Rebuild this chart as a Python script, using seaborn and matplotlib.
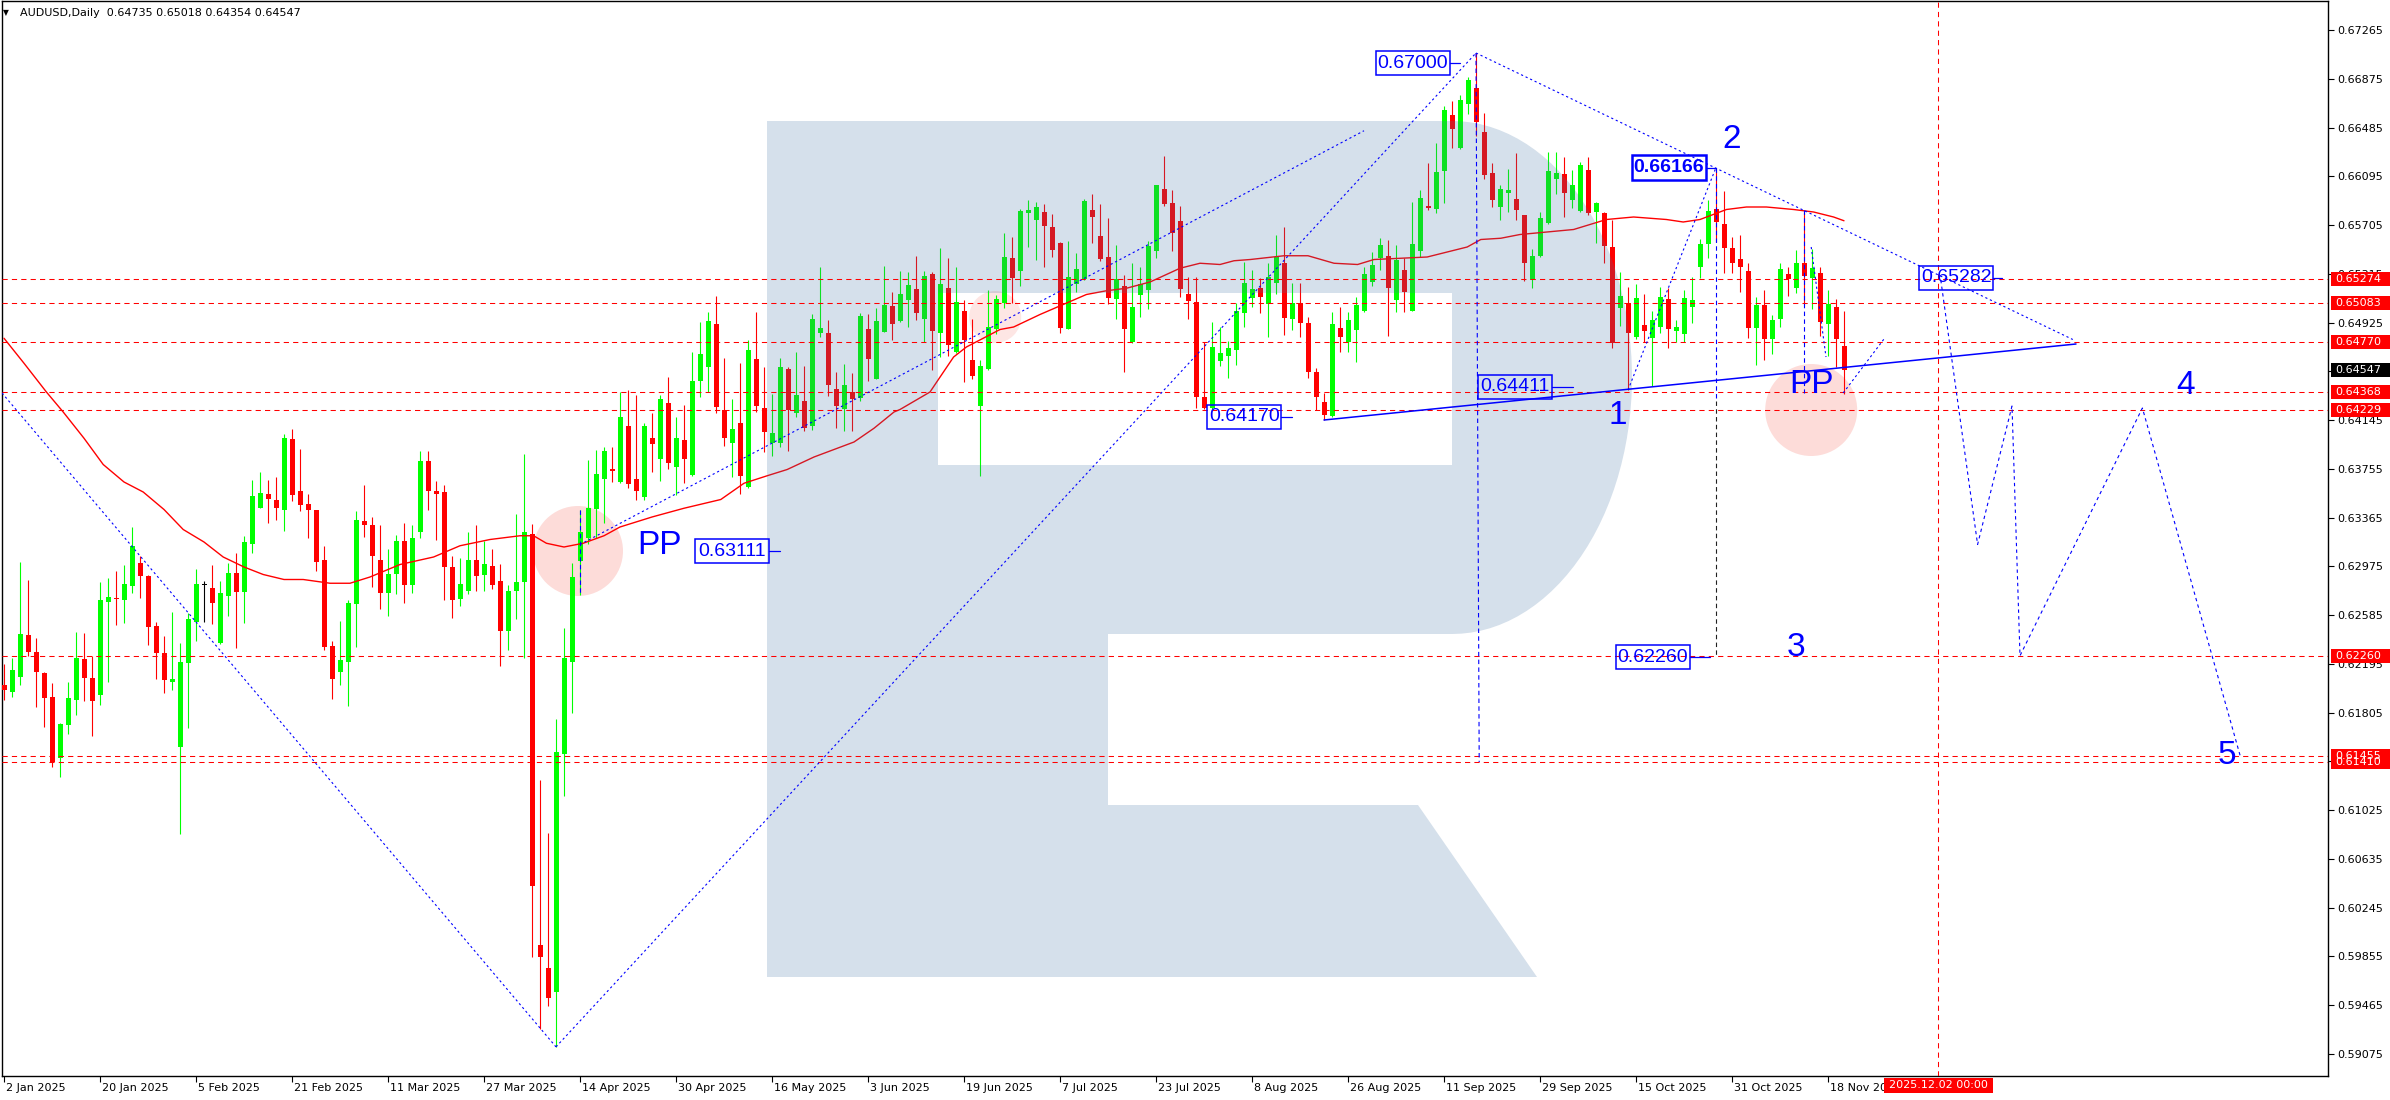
import numpy as np
import pandas as pd
import matplotlib
matplotlib.use("Agg")
import matplotlib.pyplot as plt
import seaborn as sns
from matplotlib.patches import Rectangle, Ellipse, PathPatch
from matplotlib.path import Path
from matplotlib.transforms import (blended_transform_factory, IdentityTransform,
                                   ScaledTranslation)

# ---------------- data ----------------
opens = [0.62026,0.61973,0.62093,0.62426,0.62293,0.62125,0.61933,0.61439,0.61706,0.61906,
0.62231,0.62079,0.61946,0.62693,0.62720,0.62706,0.62818,0.62999,0.62898,0.62498,
0.62279,0.62053,0.61533,0.62205,0.62533,0.62826,0.62799,0.62359,0.62738,0.62919,
0.62773,0.63154,0.63445,0.63554,0.63506,0.63426,0.63994,0.63578,0.63474,0.63426,
0.63023,0.62339,0.62132,0.62207,0.62674,0.63335,0.63307,0.63023,0.62764,0.62915,
0.63179,0.62825,0.63250,0.63816,0.63580,0.63566,0.62967,0.62717,0.62778,0.63023,
0.62905,0.62981,0.62858,0.62462,0.62778,0.62849,0.63236,0.59948,0.59759,0.59570,
0.61471,0.62207,0.63014,0.63203,0.63434,0.63675,0.63755,0.63651,0.64098,0.63674,
0.63533,0.63999,0.63834,0.64279,0.63773,0.63986,0.63706,0.64461,0.64573,0.64914,
0.64226,0.63959,0.64125,0.63613,0.64634,0.64239,0.63959,0.63965,0.64554,0.64199,
0.64298,0.64101,0.64845,0.64839,0.64391,0.64234,0.64367,0.64319,0.64874,0.64474,
0.64853,0.65058,0.64938,0.65106,0.65194,0.64954,0.65311,0.64845,0.65199,0.64693,
0.65018,0.64626,0.64261,0.64554,0.64871,0.65079,0.65439,0.65341,0.65805,0.65746,
0.65807,0.65687,0.65565,0.64877,0.65231,0.65274,0.65826,0.65618,0.65450,0.65111,
0.65218,0.64767,0.65146,0.65186,0.65501,0.65994,0.65879,0.65738,0.65154,0.65087,
0.64327,0.64239,0.64621,0.64661,0.64706,0.64999,0.65119,0.65205,0.65071,0.65239,
0.65399,0.64951,0.65085,0.64919,0.64527,0.64287,0.64181,0.64879,0.64767,0.64866,
0.65018,0.65247,0.65445,0.65458,0.65106,0.65346,0.65018,0.65501,0.65858,0.65834,
0.66141,0.66586,0.66319,0.66671,0.66799,0.66447,0.66119,0.65853,0.65965,0.65911,
0.65786,0.65266,0.65458,0.65725,0.66071,0.66114,0.65906,0.65818,0.66146,0.65813,
0.65805,0.65527,0.65039,0.65085,0.64807,0.64906,0.64799,0.64887,0.65114,0.64861,
0.64831,0.65053,0.65373,0.65551,0.65831,0.65711,0.65519,0.65431,0.65338,0.64879,
0.65066,0.64791,0.64951,0.65314,0.65205,0.65399,0.65279,0.65319,0.64914,0.65047,
0.64735]
highs = [0.62194,0.62239,0.63013,0.62866,0.62399,0.62130,0.62039,0.61720,0.62053,0.62453,
0.62445,0.62258,0.62853,0.62879,0.62941,0.62986,0.63293,0.63058,0.62905,0.62533,
0.62418,0.62613,0.62359,0.62599,0.62951,0.62861,0.62986,0.62858,0.62999,0.63079,
0.63218,0.63666,0.63727,0.63666,0.63693,0.64031,0.64074,0.63914,0.63554,0.63430,
0.63137,0.62377,0.62542,0.62707,0.63415,0.63627,0.63368,0.63307,0.63118,0.63226,
0.63321,0.63302,0.63896,0.63896,0.63660,0.63627,0.63061,0.63038,0.63250,0.63307,
0.63179,0.63118,0.62990,0.62825,0.63396,0.63877,0.63311,0.61268,0.60844,0.61754,
0.62481,0.63000,0.63424,0.63826,0.63906,0.63929,0.63929,0.64368,0.64386,0.64346,
0.64125,0.64205,0.64346,0.64493,0.64173,0.64266,0.64693,0.64933,0.65013,0.65138,
0.64645,0.64314,0.64605,0.64786,0.65010,0.64573,0.64354,0.64645,0.64573,0.64687,
0.64581,0.64991,0.65373,0.64946,0.64527,0.64594,0.64525,0.65005,0.64994,0.65039,
0.65378,0.65173,0.65338,0.65330,0.65461,0.65341,0.65330,0.65519,0.65439,0.65367,
0.65106,0.64954,0.64626,0.65186,0.65146,0.65645,0.65613,0.65834,0.65906,0.65893,
0.65874,0.65794,0.65570,0.65578,0.65485,0.65914,0.65954,0.65874,0.65762,0.65546,
0.65306,0.65399,0.65367,0.65578,0.66030,0.66258,0.65986,0.65861,0.65293,0.65293,
0.64767,0.64927,0.64887,0.64781,0.65085,0.65413,0.65346,0.65279,0.65399,0.65626,
0.65687,0.65239,0.65239,0.64967,0.64565,0.64365,0.65007,0.65047,0.65007,0.65133,
0.65373,0.65493,0.65599,0.65586,0.65546,0.65439,0.65893,0.65986,0.66199,0.66359,
0.66658,0.66698,0.66746,0.66893,0.67082,0.66599,0.66199,0.66026,0.66151,0.66279,
0.65790,0.65511,0.65807,0.66287,0.66287,0.66253,0.66146,0.66213,0.66253,0.65893,
0.65810,0.65746,0.65327,0.65213,0.65234,0.65154,0.65018,0.65213,0.65205,0.64946,
0.65186,0.65287,0.65594,0.65906,0.66166,0.65978,0.65613,0.65626,0.65399,0.65133,
0.65186,0.64986,0.65399,0.65373,0.65506,0.65813,0.65511,0.65373,0.65186,0.65111,
0.65018]
lows = [0.61906,0.61933,0.62026,0.62258,0.61847,0.61693,0.61367,0.61287,0.61634,0.61786,
0.61901,0.61618,0.61866,0.62053,0.62506,0.62525,0.62765,0.62725,0.62346,0.62074,
0.61965,0.61986,0.60834,0.61679,0.62381,0.62533,0.62511,0.62350,0.62578,0.62325,
0.62525,0.63085,0.63440,0.63325,0.63346,0.63258,0.63498,0.63418,0.63205,0.62941,
0.62306,0.61915,0.62023,0.61858,0.62330,0.63212,0.62811,0.62632,0.62575,0.62755,
0.62684,0.62764,0.63203,0.63424,0.63189,0.62707,0.62566,0.62660,0.62755,0.62778,
0.62778,0.62792,0.62179,0.62306,0.62552,0.62245,0.59853,0.59277,0.59461,0.59131,
0.61141,0.61801,0.62745,0.63156,0.63203,0.63321,0.63651,0.63640,0.63599,0.63506,
0.63506,0.63733,0.63661,0.63751,0.63546,0.63645,0.63698,0.64333,0.64373,0.64205,
0.63938,0.63693,0.63551,0.63599,0.64213,0.63893,0.63861,0.63933,0.63901,0.64173,
0.64061,0.64066,0.64813,0.64338,0.64085,0.64058,0.64058,0.64301,0.64461,0.64470,
0.64850,0.64786,0.64927,0.64893,0.64946,0.64773,0.64546,0.64653,0.64658,0.64679,
0.64447,0.64471,0.63698,0.64546,0.64834,0.65039,0.65079,0.65218,0.65533,0.65426,
0.65367,0.65453,0.64845,0.64870,0.65173,0.65266,0.65559,0.65418,0.65071,0.64951,
0.64533,0.64760,0.64973,0.65031,0.65439,0.65861,0.65501,0.65127,0.64951,0.64245,
0.64231,0.64235,0.64578,0.64485,0.64586,0.64887,0.65053,0.65005,0.64813,0.65154,
0.64826,0.64866,0.64813,0.64485,0.64226,0.64146,0.64170,0.64693,0.64693,0.64613,
0.65007,0.65218,0.65346,0.64818,0.65007,0.65007,0.65015,0.65453,0.65826,0.65799,
0.65885,0.66319,0.66315,0.66594,0.66418,0.66071,0.65853,0.65746,0.65813,0.65746,
0.65261,0.65199,0.65447,0.65714,0.65954,0.65767,0.65839,0.65807,0.65786,0.65559,
0.65399,0.64719,0.64898,0.64386,0.64791,0.64773,0.64418,0.64839,0.64719,0.64773,
0.64773,0.64919,0.65279,0.65439,0.65573,0.65319,0.65325,0.65173,0.64799,0.64586,
0.64626,0.64674,0.64887,0.65138,0.65159,0.65079,0.65031,0.64818,0.64658,0.64573,
0.64354]
closes = [0.61986,0.62146,0.62434,0.62293,0.62133,0.61925,0.61413,0.61714,0.61919,0.62245,
0.62085,0.61898,0.62706,0.62733,0.62712,0.62834,0.63138,0.62898,0.62493,0.62285,
0.62066,0.62074,0.62213,0.62551,0.62834,0.62826,0.62685,0.62759,0.62919,0.62773,
0.63167,0.63538,0.63565,0.63514,0.63445,0.64005,0.63546,0.63466,0.63426,0.63013,
0.62330,0.62070,0.62226,0.62684,0.63344,0.63307,0.63061,0.62764,0.62915,0.63179,
0.62825,0.63198,0.63816,0.63580,0.63557,0.62967,0.62707,0.62835,0.63023,0.62896,
0.62990,0.62825,0.62462,0.62778,0.62849,0.63250,0.60419,0.59853,0.59523,0.61490,
0.62245,0.62887,0.63250,0.63439,0.63717,0.63896,0.63736,0.64170,0.63631,0.63581,
0.64098,0.63951,0.64314,0.63805,0.63999,0.63831,0.64458,0.64674,0.64938,0.64247,
0.63999,0.64074,0.63701,0.64706,0.64261,0.64053,0.64045,0.64573,0.64226,0.64346,
0.64085,0.64954,0.64879,0.64426,0.64258,0.64426,0.64314,0.64978,0.64634,0.64938,
0.65066,0.64914,0.65154,0.65226,0.65005,0.65298,0.64861,0.65234,0.64746,0.65087,
0.64786,0.64501,0.64578,0.64893,0.65114,0.65453,0.65279,0.65818,0.65826,0.65847,
0.65701,0.65506,0.64885,0.65287,0.65354,0.65898,0.65773,0.65434,0.65125,0.65274,
0.64871,0.65047,0.65234,0.65538,0.66026,0.65871,0.65645,0.65191,0.65101,0.64327,
0.64245,0.64727,0.64679,0.64719,0.65018,0.65239,0.65191,0.65133,0.65287,0.65447,
0.64959,0.65079,0.64919,0.64527,0.64333,0.64186,0.64914,0.64813,0.64946,0.65066,
0.65311,0.65386,0.65546,0.65205,0.65426,0.65173,0.65554,0.65919,0.65839,0.66127,
0.66626,0.66477,0.66706,0.66866,0.66527,0.66106,0.65906,0.65991,0.65986,0.65826,
0.65399,0.65458,0.65759,0.66138,0.66119,0.65959,0.66026,0.66186,0.65805,0.65879,
0.65538,0.64765,0.65138,0.64845,0.65119,0.64861,0.64946,0.65127,0.64871,0.64887,
0.65119,0.65106,0.65551,0.65818,0.65727,0.65519,0.65405,0.65373,0.64879,0.65066,
0.64791,0.64946,0.65354,0.65271,0.65399,0.65298,0.65365,0.64933,0.65074,0.64791,
0.64547]

# moving average read at sample bars
ma_bar = [0,2.5,5.3,7.4,10,12.4,15,17.4,20,22.4,25,27.4,30,32.4,35,37.4,40.75,43.25,45.75,49.5,
          53.7,57,60.75,64.5,66.2,67.8,70,72.4,75,77,81,85,89.6,92.5,95.4,97.9,101.25,103.75,106.25,
          108.75,111.25,112,115.75,116.8,118.7,120.3,124.5,126.2,129.5,132.4,135.3,137.8,140.3,143.25,
          145.3,147,149.5,152,153.75,155.8,160,163,166.25,169.2,171.25,174.6,177.9,180.4,182.9,184.6,
          187.1,189.5,191.2,196.2,200.3,203.7,207.8,209.9,212,215.3,217.8,220.3,223.7,226.2,228.7,230]
ma_val = [0.6480,0.6460,0.6437,0.6421,0.6400,0.6379,0.6365,0.6357,0.6343,0.6327,0.6317,0.6305,0.6297,
          0.6291,0.6287,0.6287,0.6284,0.6284,0.6289,0.6299,0.6305,0.6314,0.6319,0.6322,0.6322,0.6316,
          0.6313,0.6316,0.6322,0.6329,0.6337,0.6344,0.6351,0.6364,0.6370,0.6375,0.6385,0.6391,0.6397,
          0.6408,0.6421,0.6423,0.6437,0.6447,0.6465,0.6473,0.6487,0.6489,0.6499,0.6507,0.6515,0.6518,
          0.6520,0.6525,0.6531,0.6536,0.6540,0.6539,0.6542,0.6543,0.6546,0.6546,0.6540,0.6539,0.6543,
          0.6544,0.6545,0.6549,0.6553,0.6559,0.6560,0.6563,0.6564,0.6567,0.6575,0.6577,0.6575,0.6573,
          0.6575,0.6583,0.6585,0.6585,0.6583,0.6581,0.6577,0.6574]

# date axis (last label is cut by the red date box, as in the chart)
date_ticks = [0,12,24,36,48,60,72,84,96,108,120,132,144,156,168,180,192,204,216,228]
date_labels = ["2 Jan 2025","20 Jan 2025","5 Feb 2025","21 Feb 2025","11 Mar 2025","27 Mar 2025",
               "14 Apr 2025","30 Apr 2025","16 May 2025","3 Jun 2025","19 Jun 2025","7 Jul 2025",
               "23 Jul 2025","8 Aug 2025","26 Aug 2025","11 Sep 2025","29 Sep 2025","15 Oct 2025",
               "31 Oct 2025","18 Nov 20"]
price_ticks = [0.67265,0.66875,0.66485,0.66095,0.65705,0.65315,0.64925,0.64535,0.64145,0.63755,
               0.63365,0.62975,0.62585,0.62195,0.61805,0.61415,0.61025,0.60635,0.60245,0.59855,
               0.59465,0.59075]
red_levels = [0.65274,0.65083,0.64770,0.64368,0.64229,0.62260,0.61455,0.61410]
last_price = 0.64547
title_text = "AUDUSD,Daily  0.64735 0.65018 0.64354 0.64547"
vline_bar = 241.75
vline_label = "2025.12.02 00:00"

# wave annotations (bar, price)
line_a = ([-0.25, 69], [0.64362, 0.59131])
line_b = ([69, 184], [0.59131, 0.67082])
line_c = ([72, 170], [0.6315, 0.6646])
line_d = ([184, 258.6], [0.67082, 0.6479])
line_sup = ([165, 259], [0.64146, 0.64754])
line_12 = ([203, 214], [0.64386, 0.66166])
vert_1 = ([184, 184.4], [0.67082, 0.61410])
vert_2 = ([214, 214], [0.66166, 0.64300])
vert_2b = ([214, 214], [0.64300, 0.62260])
vert_3 = ([225, 225], [0.65826, 0.64362])
vert_4 = ([72, 72], [0.63424, 0.62745])
seg_a = ([225.9, 227.75], [0.65530, 0.64650])
seg_b = ([229.9, 235], [0.64362, 0.64794])
proj_x = [242.1, 246.7, 251.0, 252.0, 267.3, 279.6]
proj_y = [0.65266, 0.63150, 0.64258, 0.62260, 0.64242, 0.61442]

box_text = ["0.67000","0.66166","0.65282","0.64411","0.64170","0.63111","0.62260"]
box_left = [171.5, 203.5, 239.4, 184.25, 150.4, 86.4, 201.5]
box_price = [0.67000, 0.66166, 0.65282, 0.64411, 0.64170, 0.63098, 0.62248]
box_tip = [182.0, 214.0, 249.75, 196.1, 161.0, 97.0, 213.25]
box_bold = [False, True, False, False, False, False, False]

wave_text = ["1","2","3","4","5","PP","PP"]
wave_x = [201.75, 215.9, 224.0, 272.75, 277.9, 81.9, 226.0]
wave_y = [0.64178, 0.66394, 0.62330, 0.64418, 0.61466, 0.63138, 0.64426]

circle_x = [71.75, 225.9, 123.9]
circle_y = [0.63098, 0.64226, 0.64970]
circle_r_px = [45, 46, 26]

# ---------------- figure ----------------
sns.set_theme(style="white")
plt.rcParams['font.family'] = ['DejaVu Sans']

W, H = 2390, 1100
fig = plt.figure(figsize=(W/100, H/100), dpi=100)
fig.patch.set_facecolor('white')
L_PX, R_PX, T_PX, B_PX = 2, 2328, 1, 1076
ax = fig.add_axes([L_PX/W, 1-B_PX/H, (R_PX-L_PX)/W, (B_PX-T_PX)/H])
ax.set_facecolor('white')
X0, X1 = -0.25, 290.5
Y0, Y1 = 0.58898, 0.67498
ax.set_xlim(X0, X1)
ax.set_ylim(Y0, Y1)
PXB = 8.0            # pixels per bar
PXP = 12500.0        # pixels per price unit
def bx(xp):  # pixel x -> bar
    return (xp - 4) / PXB
def py(yp):  # pixel y (top down) -> price
    return 0.65274 - (yp - 279) / PXP

# pink highlight circles
circ_cols = ['#fddcd9', '#fddcd9', '#fde6e4']
for cx, cy, r, cc in zip(circle_x, circle_y, circle_r_px, circ_cols):
    ax.add_patch(Ellipse((cx, cy), 2*r/PXB, 2*r/PXP, facecolor=cc, edgecolor='none', zorder=1))

# candles
df = pd.DataFrame({'o': opens, 'h': highs, 'l': lows, 'c': closes})
df['i'] = np.arange(len(df))
cols = np.where(df.c > df.o, '#00ff00', np.where(df.c < df.o, '#ff0000', '#000000'))
ax.vlines(df.i, df.l, df.h, colors=cols, lw=0.8, zorder=3)
body_bottom = np.minimum(df.o, df.c)
body_h = np.maximum(np.abs(df.c - df.o), 1.0/PXP)
ax.bar(df.i, body_h, bottom=body_bottom, width=0.625, color=cols, linewidth=0, zorder=3)

# moving average
sns.lineplot(x=ma_bar, y=ma_val, ax=ax, color='#ff0000', linewidth=1.0, estimator=None,
             sort=False, zorder=3.5)

# watermark "R"
def ell_pts(cx, cy, a, b, n=60):
    t = np.linspace(-np.pi/2, np.pi/2, n)
    return [(cx + a*np.cos(tt), cy + b*np.sin(tt)) for tt in t]
outer = [(767,121),(1452,121)] + ell_pts(1452, 377.5, 180, 256.5) + \
        [(1452,634),(1108,634),(1108,805),(1418,805),(1537,977),(767,977),(767,121)]
hole = [(938,293),(938,465),(1452,465),(1452,293),(938,293)]
verts = [(bx(x), py(y)) for x, y in outer] + [(bx(x), py(y)) for x, y in hole]
codes = [Path.MOVETO] + [Path.LINETO]*(len(outer)-2) + [Path.CLOSEPOLY] + \
        [Path.MOVETO] + [Path.LINETO]*(len(hole)-2) + [Path.CLOSEPOLY]
ax.add_patch(PathPatch(Path(verts, codes), facecolor=(64/255, 114/255, 164/255), alpha=0.22,
                       edgecolor='none', zorder=4))

# horizontal red dashed levels
for lv in red_levels:
    ax.axhline(lv, color='#ff0000', lw=0.75, linestyle=(0, (5, 4)), zorder=5)
ax.axvline(vline_bar, color='#ff0000', lw=0.75, linestyle=(0, (5, 4)), zorder=5)

# blue annotations
blue = '#0000ff'
dot = (0, (2, 2.5))
for ln in [line_a, line_b, line_c, line_d, line_12, seg_a, seg_b]:
    ax.plot(ln[0], ln[1], color=blue, lw=0.8, linestyle=dot, zorder=6)
for ln in [vert_1, vert_2, vert_3, vert_4]:
    ax.plot(ln[0], ln[1], color=blue, lw=0.8, linestyle=(0, (4, 3)), zorder=6)
ax.plot(vert_2b[0], vert_2b[1], color='#202020', lw=0.8, linestyle=(0, (4, 3)), zorder=6)
ax.plot(proj_x, proj_y, color=blue, lw=0.8, linestyle=(0, (3, 3)), zorder=6)
ax.plot(line_sup[0], line_sup[1], color=blue, lw=1.1, zorder=6)

for t, xl, pr, tip, bold in zip(box_text, box_left, box_price, box_tip, box_bold):
    wb = 74/PXB; hb = 24/PXP
    ax.add_patch(Rectangle((xl, pr - hb/2), wb, hb, facecolor='none', edgecolor=blue,
                           lw=1.8 if bold else 1.1, zorder=7))
    ax.plot([xl + wb, tip], [pr, pr], color=blue, lw=0.9, zorder=7)
    ax.text(xl + wb/2, pr, t, color=blue, fontsize=14, ha='center', va='center',
            family=['Liberation Sans', 'DejaVu Sans'], fontweight='bold' if bold else 'normal',
            zorder=8)

for t, xx, yy in zip(wave_text, wave_x, wave_y):
    ax.text(xx, yy, t, color=blue, fontsize=24, ha='center', va='center',
            family=['Liberation Sans', 'DejaVu Sans'], zorder=8)

# ---------------- axes styling ----------------
for s in ax.spines.values():
    s.set_color('black'); s.set_linewidth(1.0); s.set_visible(True)
ax.grid(False)
ax.set_xlabel(''); ax.set_ylabel('')
ax.yaxis.tick_right()
ax.set_yticks(price_ticks)
ax.set_yticklabels([f"{v:.5f}" for v in price_ticks])
ax.tick_params(axis='y', which='both', right=True, left=False, labelright=True, labelleft=False,
               direction='out', length=4, width=0.8, colors='black', labelsize=8, pad=3)
ax.set_xticks(date_ticks)
ax.set_xticklabels(date_labels, ha='left')
ax.tick_params(axis='x', which='both', bottom=True, top=False, direction='out', length=4,
               width=0.8, colors='black', labelsize=8, pad=1)
for lab in ax.get_xticklabels():
    lab.set_transform(lab.get_transform() + ScaledTranslation(2/100, 0, fig.dpi_scale_trans))

# right-side price boxes
tr_r = blended_transform_factory(IdentityTransform(), ax.transData)
def price_box(v, bg):
    ax.add_patch(Rectangle((2331, v - 7/PXP), 59, 14/PXP, transform=tr_r, facecolor=bg,
                           edgecolor='none', clip_on=False, zorder=9))
    ax.text(2335, v, f"{v:.5f}", transform=tr_r, color='white', fontsize=8, ha='left',
            va='center', clip_on=False, zorder=10)
for lv in red_levels:
    price_box(lv, '#ff0000')
price_box(last_price, '#000000')

# date box for vertical line
tr_b = blended_transform_factory(ax.transData, IdentityTransform())
ax.add_patch(Rectangle((vline_bar - 54.5/PXB, H - 1093), 109/PXB, 15, transform=tr_b,
                       facecolor='#ff0000', edgecolor='none', clip_on=False, zorder=9))
ax.text(vline_bar, H - 1085.5, vline_label, transform=tr_b, color='white', fontsize=8,
        ha='center', va='center', clip_on=False, zorder=10)

# title
fig.text(3/W, 1 - 13/H, "\u25BC", fontsize=5.5, color='black', ha='left', va='center')
fig.text(20/W, 1 - 13/H, title_text, fontsize=8, color='black', ha='left', va='center')

fig.savefig("out.png", dpi=100, facecolor='white')
